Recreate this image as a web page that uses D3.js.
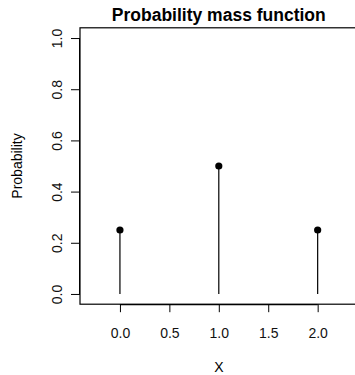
<!DOCTYPE html>
<html>
<head>
<meta charset="utf-8">
<script src="https://cdn.jsdelivr.net/npm/d3@7"></script>
<style>
  body { margin: 0; background: #fff; }
  svg { font-family: "Liberation Sans", Arial, Helvetica, sans-serif; }
</style>
</head>
<body>
<div id="chart"></div>
<script>
// data
const xs = [0, 1, 2];
const probs = [0.25, 0.5, 0.25];
const xTicks = [0, 0.5, 1, 1.5, 2];
const yTicks = [0, 0.2, 0.4, 0.6, 0.8, 1.0];

const W = 355, H = 375;

const svg = d3.select("#chart")
  .append("svg")
  .attr("width", W)
  .attr("height", H);

// R style: limits padded by 4% on each side
const xlim = [-0.3, 2.3], ylim = [0, 1];
const pad = (l) => { const d = (l[1] - l[0]) * 0.04; return [l[0] - d, l[1] + d]; };

const x = d3.scaleLinear().domain(pad(xlim)).range([80, 357.6]);
const y = d3.scaleLinear().domain(pad(ylim)).range([304.2, 27.8]);

// box (right edge runs off the picture)
svg.append("rect")
  .attr("x", x.range()[0])
  .attr("y", y.range()[1])
  .attr("width", x.range()[1] - x.range()[0])
  .attr("height", y.range()[0] - y.range()[1])
  .attr("fill", "none")
  .attr("stroke", "black")
  .attr("stroke-width", 1.2);

// x axis
const gx = svg.append("g")
  .attr("transform", `translate(0, ${y.range()[0]})`)
  .call(d3.axisBottom(x).tickValues(xTicks).tickFormat(d3.format(".1f")).tickSize(8).tickSizeOuter(0));
gx.select(".domain")
  .attr("d", `M${x(0)},0.5H${x(2)}`)
  .attr("stroke-width", 1.2);
gx.selectAll("text")
  .attr("y", 33.5)
  .attr("dy", 0)
  .style("font-size", "14px")
  .attr("fill", "#111");

// y axis
const gy = svg.append("g")
  .attr("transform", `translate(${x.range()[0]}, 0)`)
  .call(d3.axisLeft(y).tickValues(yTicks).tickFormat(d3.format(".1f")).tickSize(9).tickSizeOuter(0));
gy.select(".domain")
  .attr("d", `M-0.5,${y(0)}V${y(1)}`);
gy.selectAll("text")
  .attr("transform", "rotate(-90)")
  .attr("x", 0)
  .attr("y", -18)
  .attr("dy", 0)
  .attr("text-anchor", "middle")
  .style("font-size", "14px")
  .attr("fill", "#111");

// stems
svg.append("g")
  .selectAll("line")
  .data(xs)
  .enter()
  .append("line")
  .attr("x1", d => x(d))
  .attr("x2", d => x(d))
  .attr("y1", y(0))
  .attr("y2", (d, i) => y(probs[i]))
  .attr("stroke", "black")
  .attr("stroke-width", 1.2);

// points
svg.append("g")
  .selectAll("circle")
  .data(xs)
  .enter()
  .append("circle")
  .attr("cx", d => x(d))
  .attr("cy", (d, i) => y(probs[i]))
  .attr("r", 3.6)
  .attr("fill", "black");

// title and axis labels
svg.append("text")
  .attr("x", (x.range()[0] + x.range()[1]) / 2)
  .attr("y", 20.5)
  .attr("text-anchor", "middle")
  .style("font-size", "17.5px")
  .style("font-weight", "bold")
  .text("Probability mass function");

svg.append("text")
  .attr("x", (x.range()[0] + x.range()[1]) / 2)
  .attr("y", 372)
  .attr("text-anchor", "middle")
  .style("font-size", "14px")
  .text("X");

svg.append("text")
  .attr("transform", `translate(22, ${(y.range()[0] + y.range()[1]) / 2}) rotate(-90)`)
  .attr("text-anchor", "middle")
  .style("font-size", "14px")
  .text("Probability");
</script>
</body>
</html>
